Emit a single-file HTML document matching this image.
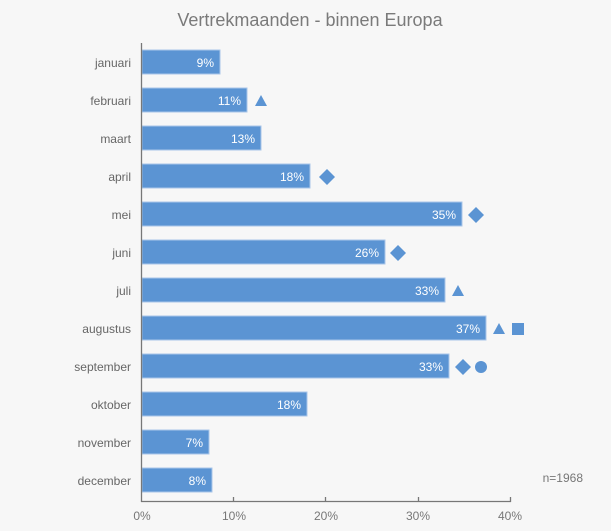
<!DOCTYPE html>
<html><head><style>body{margin:0;background:#f7f7f7}</style></head><body>
<svg width="611" height="526" xmlns="http://www.w3.org/2000/svg" font-family="Liberation Sans, sans-serif">
<rect width="611" height="526" fill="#f7f7f7"/>
<text x="310" y="26" text-anchor="middle" font-size="18" fill="#7a7a7a">Vertrekmaanden - binnen Europa</text>
<g fill="#5b94d3" stroke="#a9c6e8" stroke-width="1">
<rect x="142" y="50" width="78" height="24"/>
<rect x="142" y="88" width="105" height="24"/>
<rect x="142" y="126" width="119" height="24"/>
<rect x="142" y="164" width="168" height="24"/>
<rect x="142" y="202" width="320" height="24"/>
<rect x="142" y="240" width="243" height="24"/>
<rect x="142" y="278" width="303" height="24"/>
<rect x="142" y="316" width="344" height="24"/>
<rect x="142" y="354" width="307" height="24"/>
<rect x="142" y="392" width="165" height="24"/>
<rect x="142" y="430" width="67" height="24"/>
<rect x="142" y="468" width="70" height="24"/>
</g>
<g font-size="12" fill="#fff" text-anchor="end">
<text x="214" y="67">9%</text><text x="241" y="105">11%</text><text x="255" y="143">13%</text>
<text x="304" y="181">18%</text><text x="456" y="219">35%</text><text x="379" y="257">26%</text>
<text x="439" y="295">33%</text><text x="480" y="333">37%</text><text x="443" y="371">33%</text>
<text x="301" y="409">18%</text><text x="203" y="447">7%</text><text x="206" y="485">8%</text>
</g>
<g font-size="12" fill="#666" text-anchor="end">
<text x="131" y="67">januari</text><text x="131" y="105">februari</text><text x="131" y="143">maart</text>
<text x="131" y="181">april</text><text x="131" y="219">mei</text><text x="131" y="257">juni</text>
<text x="131" y="295">juli</text><text x="131" y="333">augustus</text><text x="131" y="371">september</text>
<text x="131" y="409">oktober</text><text x="131" y="447">november</text><text x="131" y="485">december</text>
</g>
<g fill="#5b94d3">
<polygon points="261,95 267,106 255,106"/>
<polygon points="327,169 335,177 327,185 319,177"/>
<polygon points="476,207 484,215 476,223 468,215"/>
<polygon points="398,245 406,253 398,261 390,253"/>
<polygon points="458,285 464,296 452,296"/>
<polygon points="499,323 505,334 493,334"/>
<rect x="512" y="323" width="12" height="12"/>
<polygon points="463,359 471,367 463,375 455,367"/>
<circle cx="481" cy="367" r="6"/>
</g>
<g stroke="#777" stroke-width="1.3" fill="none">
<line x1="141.5" y1="43" x2="141.5" y2="502"/>
<line x1="141" y1="501.5" x2="511" y2="501.5"/>
<line x1="233.5" y1="497" x2="233.5" y2="502"/>
<line x1="325.5" y1="497" x2="325.5" y2="502"/>
<line x1="418.5" y1="497" x2="418.5" y2="502"/>
<line x1="510.5" y1="497" x2="510.5" y2="502"/>
</g>
<g font-size="12" fill="#777" text-anchor="middle">
<text x="142" y="520">0%</text><text x="234" y="520">10%</text><text x="326" y="520">20%</text>
<text x="418" y="520">30%</text><text x="510" y="520">40%</text>
</g>
<text x="583" y="482" font-size="12" fill="#777" text-anchor="end">n=1968</text>
</svg>
</body></html>
